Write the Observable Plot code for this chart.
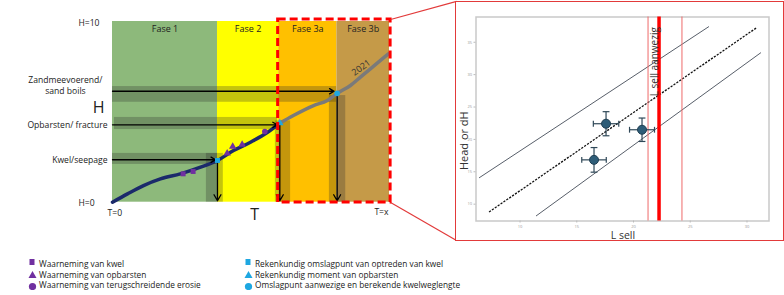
<!DOCTYPE html>
<html>
<head>
<meta charset="utf-8">
<script src="https://cdn.jsdelivr.net/npm/d3@7"></script>
<script src="https://cdn.jsdelivr.net/npm/@observablehq/plot@0.6"></script>
<style>
  html, body { margin: 0; padding: 0; background: #fff; }
  #wrap { position: relative; width: 784px; height: 295px; overflow: hidden; font-family: "Open Sans", "Liberation Sans", sans-serif; }
  #left { position: absolute; left: 0; top: 0; }
  #right { position: absolute; left: 455px; top: 1px; width: 327px; height: 238px; border: 1.5px solid #e23a3a; background: #fff; }
  #legend { position: absolute; left: 0; top: 258px; width: 784px; height: 37px; font-size: 8.3px; color: #222; }
  .item { position: absolute; white-space: nowrap; line-height: 11px; }
  .item svg { position: absolute; left: -11px; top: 1px; }
</style>
</head>
<body>
<div id="wrap">
  <div id="left"></div>
  <div id="right"></div>
  <div id="legend"></div>
</div>
<script>
// ---------- LEFT PANEL DATA (T and H in schematic units 0..10) ----------
const phases      = ["Fase 1", "Fase 2", "Fase 3a", "Fase 3b"];
const phaseStart  = [0, 3.79, 6.0, 8.1];
const phaseEnd    = [3.79, 6.0, 8.1, 10];

// observed curve (until fracture) and 2021 curve
const curveT1 = [0, 0.54, 1.12, 1.73, 2.45, 3.18, 3.79, 4.37, 4.98, 5.6, 6.0];
const curveH1 = [0, 0.46, 0.92, 1.29, 1.57, 1.94, 2.31, 2.86, 3.32, 3.87, 4.34];
const curveT2 = [6.0, 6.53, 7.26, 7.76, 8.12, 8.59, 8.95, 9.31, 9.96];
const curveH2 = [4.34, 4.80, 5.35, 5.63, 6.03, 6.46, 6.92, 7.38, 8.21];

// observations (purple)
const obsKind = ["kwel", "kwel", "opbarsten", "opbarsten", "opbarsten", "erosie"];
const obsT    = [2.55, 2.91, 4.14, 4.34, 4.68, 5.5];
const obsH    = [1.57, 1.70, 2.71, 3.08, 3.19, 3.91];

// computed points (cyan)
const calcKind = ["kwel", "opbarsten", "omslag"];
const calcT    = [3.79, 6.04, 8.11];
const calcH    = [2.31, 4.38, 6.02];

// threshold levels (labels on H axis) with horizontal bands and arrows
const levelName   = ["Kwel/seepage", "Opbarsten/ fracture", "Zandmeevoerend/ sand boils"];
const levelH      = [2.35, 4.28, 6.14];
const levelBandLo = [2.09, 4.02, 5.53];
const levelBandHi = [2.70, 4.69, 6.40];
const levelBandX0 = [0, 0.07, 0];
const levelBandX1 = [3.79, 5.96, 8.09];
const levelArrowEnd = [3.72, 5.95, 8.0];
const colX0 = [3.39, 5.88, 7.83];
const colX1 = [4.0, 6.43, 8.42];
const colTop = [2.70, 4.50, 5.90];

// zoom box and connectors to the right panel
const boxT = [5.98, 10.04];
const boxH = [-0.02, 10.11];
const connT = [12.42, 12.42];
const connH = [11.11, -2.12];

// ---------- RIGHT PANEL DATA ----------
const lsell    = [17.58, 20.75, 16.52];
const head     = [22.42, 21.49, 16.84];
const lsellErr = [1.12, 1.10, 1.08];
const headErr  = [1.86, 1.81, 1.90];

const lineName = ["upper", "fit", "lower"];
const lineX1 = [6.39, 7.27, 11.41];
const lineY1 = [14.06, 8.79, 8.17];
const lineX2 = [26.65, 30.88, 31.23];
const lineY2 = [37.43, 37.28, 33.40];

const lsellPresent = 22.25;
const lsellBounds  = [21.28, 24.27];
const xTicks = [10, 15, 20, 25, 30];
const yTicks = [10, 15, 20, 25, 30, 35];

// ---------- build tables ----------
const phaseRows = phases.map((p, i) => ({p, t0: phaseStart[i], t1: phaseEnd[i]}));
const curve1 = curveT1.map((t, i) => ({t, h: curveH1[i]}));
const curve2 = curveT2.map((t, i) => ({t, h: curveH2[i]}));
const obs = obsT.map((t, i) => ({t, h: obsH[i], k: obsKind[i]}));
const calc = calcT.map((t, i) => ({t, h: calcH[i], k: calcKind[i]}));
const levels = levelName.map((n, i) => ({n, h: levelH[i], lo: levelBandLo[i], hi: levelBandHi[i],
  bx0: levelBandX0[i], bx1: levelBandX1[i], ae: levelArrowEnd[i], cx0: colX0[i], cx1: colX1[i], ct: colTop[i], vx: calcT[i], vh: calcH[i]}));
const conns = connT.map((t, i) => ({t0: boxT[1], h0: i === 0 ? boxH[1] : boxH[0], t1: t, h1: connH[i]}));

const font = "'Open Sans', 'Liberation Sans', sans-serif";
const symbolScale = {domain: ["kwel", "opbarsten", "erosie", "omslag"], range: ["square", "triangle", "circle", "circle"]};

const left = Plot.plot({
  width: 460, height: 240,
  marginLeft: 112, marginRight: 71, marginTop: 21, marginBottom: 38.3,
  x: {domain: [0, 10], axis: null},
  y: {domain: [0, 10], axis: null},
  color: {domain: phases, range: ["#8db97b", "#ffff00", "#ffc000", "#c59a48"]},
  symbol: symbolScale,
  style: {fontFamily: font, overflow: "visible", background: "transparent"},
  marks: [
    Plot.rect(phaseRows, {x1: "t0", x2: "t1", y1: 0, y2: 10, fill: "p"}),
    Plot.text(phaseRows, {x: d => (d.t0 + d.t1) / 2, y: 9.56, text: "p", fontSize: 9, fill: "#222"}),
    // dark translucent bands
    Plot.rect(levels, {x1: "bx0", x2: "bx1", y1: "lo", y2: "hi", fill: "#2a2a2a", fillOpacity: 0.28}),
    Plot.rect(levels, {x1: "cx0", x2: "cx1", y1: 0, y2: "ct", fill: "#2a2a2a", fillOpacity: 0.28}),
    // curves
    Plot.line(curve2, {x: "t", y: "h", stroke: "#7a7a7a", strokeWidth: 3.5, curve: "monotone-x"}),
    Plot.line(curve1, {x: "t", y: "h", stroke: "#1b2a6b", strokeWidth: 3.5, curve: "monotone-x"}),
    Plot.text(["2021"], {x: 8.98, y: 7.45, text: d => d, rotate: -36, fontSize: 9, fill: "#333"}),
    // arrows
    Plot.arrow(levels, {x1: 0, y1: "h", x2: "ae", y2: "h", stroke: "black", strokeWidth: 1.3, headLength: 6}),
    Plot.arrow(levels, {x1: "vx", y1: d => d.vh - 0.05, x2: "vx", y2: 0.08, stroke: "black", strokeWidth: 1.3, headLength: 8}),
    // observations and computed points
    Plot.dot(obs, {x: "t", y: "h", symbol: "k", fill: "#7030a0", r: 2.8}),
    Plot.dot(calc, {x: "t", y: "h", symbol: "k", fill: "#1ea7e1", r: 2.8}),
    // zoom box
    Plot.rect([0], {x1: boxT[0], x2: boxT[1], y1: boxH[0], y2: boxH[1], fill: "none", stroke: "#ff0000", strokeWidth: 3, strokeDasharray: "8,4"}),
    Plot.link(conns, {x1: "t0", y1: "h0", x2: "t1", y2: "h1", stroke: "#e23a3a", strokeWidth: 1.2}),
    // axis annotations
    Plot.text(["H=10", "H=0"], {x: -1.23, y: [9.89, -0.05], text: d => d, textAnchor: "start", fontSize: 8.6, fill: "#222"}),
    Plot.text(["T=0"], {x: -0.18, y: -0.63, text: d => d, textAnchor: "start", fontSize: 8.6, fill: "#222"}),
    Plot.text(["T=x"], {x: 9.71, y: -0.55, text: d => d, fontSize: 8.6, fill: "#222"}),
    Plot.text(["T"], {x: 5.13, y: -0.72, text: d => d, fontSize: 16, fill: "#222"}),
    Plot.text(["H"], {x: -0.5, y: 5.24, text: d => d, fontSize: 16, fill: "#222"}),
    Plot.text(levels.slice(0, 2), {x: -0.18, y: "h", text: "n", textAnchor: "end", fontSize: 8.6, fill: "#222"}),
    Plot.text(["Zandmeevoerend/", "sand boils"], {x: -1.7, y: [6.73, 6.14], text: d => d, fontSize: 8.6, fill: "#222"})
  ]
});
document.getElementById("left").appendChild(left);

// ---------- right panel ----------
const pts = lsell.map((x, i) => ({x, y: head[i], ex: lsellErr[i], ey: headErr[i]}));
const lines = lineName.map((n, i) => ({n, x1: lineX1[i], y1: lineY1[i], x2: lineX2[i], y2: lineY2[i]}));
const capX = 0.3, capY = 0.45;
const yDom = [7.4, 38.9];

const right = Plot.plot({
  width: 327, height: 238,
  marginLeft: 19.5, marginRight: 14.5, marginTop: 14.5, marginBottom: 19.5,
  x: {domain: [6.12, 31.94], ticks: xTicks, tickSize: 2, label: null},
  y: {domain: yDom, ticks: yTicks, tickSize: 2, label: null},
  style: {fontFamily: font, overflow: "visible"},
  marks: [
    Plot.frame({stroke: "#c9c9c9", strokeWidth: 1.5}),
    Plot.axisX(xTicks, {fontSize: 4, fill: "#999", stroke: "#bbb", tickSize: 2, tickPadding: 2, label: null}),
    Plot.axisY(yTicks, {fontSize: 4, fill: "#999", stroke: "#bbb", tickSize: 2, tickPadding: 2, label: null}),
    Plot.link(lines.filter(d => d.n !== "fit"), {x1: "x1", y1: "y1", x2: "x2", y2: "y2", stroke: "#444c58", strokeWidth: 0.9}),
    Plot.link(lines.filter(d => d.n === "fit"), {x1: "x1", y1: "y1", x2: "x2", y2: "y2", stroke: "#111", strokeWidth: 1.3, strokeDasharray: "2.2,1.3"}),
    Plot.ruleX(lsellBounds, {y1: yDom[0], y2: yDom[1], stroke: "#ee6a6a", strokeWidth: 1}),
    Plot.ruleX([lsellPresent], {y1: yDom[0], y2: yDom[1], stroke: "#ff0000", strokeWidth: 3.5}),
    Plot.text(["L sell aanwezig"], {x: 21.89, y: 32.0, text: d => d, rotate: -90, fontSize: 10, fill: "#333"}),
    // error bars
    Plot.link(pts, {x1: d => d.x - d.ex, x2: d => d.x + d.ex, y1: "y", y2: "y", stroke: "#2f4858", strokeWidth: 1.2}),
    Plot.link(pts, {x1: "x", x2: "x", y1: d => d.y - d.ey, y2: d => d.y + d.ey, stroke: "#2f4858", strokeWidth: 1.2}),
    Plot.link(pts, {x1: d => d.x - d.ex, x2: d => d.x - d.ex, y1: d => d.y - capY, y2: d => d.y + capY, stroke: "#2f4858", strokeWidth: 1.2}),
    Plot.link(pts, {x1: d => d.x + d.ex, x2: d => d.x + d.ex, y1: d => d.y - capY, y2: d => d.y + capY, stroke: "#2f4858", strokeWidth: 1.2}),
    Plot.link(pts, {x1: d => d.x - capX, x2: d => d.x + capX, y1: d => d.y - d.ey, y2: d => d.y - d.ey, stroke: "#2f4858", strokeWidth: 1.2}),
    Plot.link(pts, {x1: d => d.x - capX, x2: d => d.x + capX, y1: d => d.y + d.ey, y2: d => d.y + d.ey, stroke: "#2f4858", strokeWidth: 1.2}),
    Plot.dot(pts, {x: "x", y: "y", r: 4.5, fill: "#2e5d78", stroke: "#203f52", strokeWidth: 1}),
    // axis titles
    Plot.text(["Head or dH"], {x: 5.07, y: 19.8, text: d => d, rotate: -90, fontSize: 11, fill: "#333"}),
    Plot.text(["L sell"], {x: 19.07, y: 5.2, text: d => d, fontSize: 10.5, fill: "#333"})
  ]
});
document.getElementById("right").appendChild(right);

// ---------- legend ----------
const legendLeft  = ["Waarneming van kwel", "Waarneming van opbarsten", "Waarneming van terugschreidende erosie"];
const legendRight = ["Rekenkundig omslagpunt van optreden van kwel", "Rekenkundig moment van opbarsten", "Omslagpunt aanwezige en berekende kwelweglengte"];
const legendShapes = ["square", "triangle", "circle"];
const shapeSvg = (s, c) => {
  if (s === "square") return `<svg width="8" height="9"><rect x="1.5" y="0" width="5" height="6" fill="${c}"/></svg>`;
  if (s === "triangle") return `<svg width="9" height="9"><polygon points="4.5,1 8.5,8 0.5,8" fill="${c}"/></svg>`;
  return `<svg width="9" height="10"><circle cx="4.5" cy="6.5" r="3.6" fill="${c}"/></svg>`;
};
const leg = document.getElementById("legend");
[[legendLeft, 39, "#7030a0"], [legendRight, 255, "#1ea7e1"]].forEach(([labels, x, c]) => {
  labels.forEach((l, i) => {
    const d = document.createElement("div");
    d.className = "item";
    d.style.left = x + "px";
    d.style.top = (i * 10.7) + "px";
    d.innerHTML = shapeSvg(legendShapes[i], c) + l;
    leg.appendChild(d);
  });
});
</script>
</body>
</html>
